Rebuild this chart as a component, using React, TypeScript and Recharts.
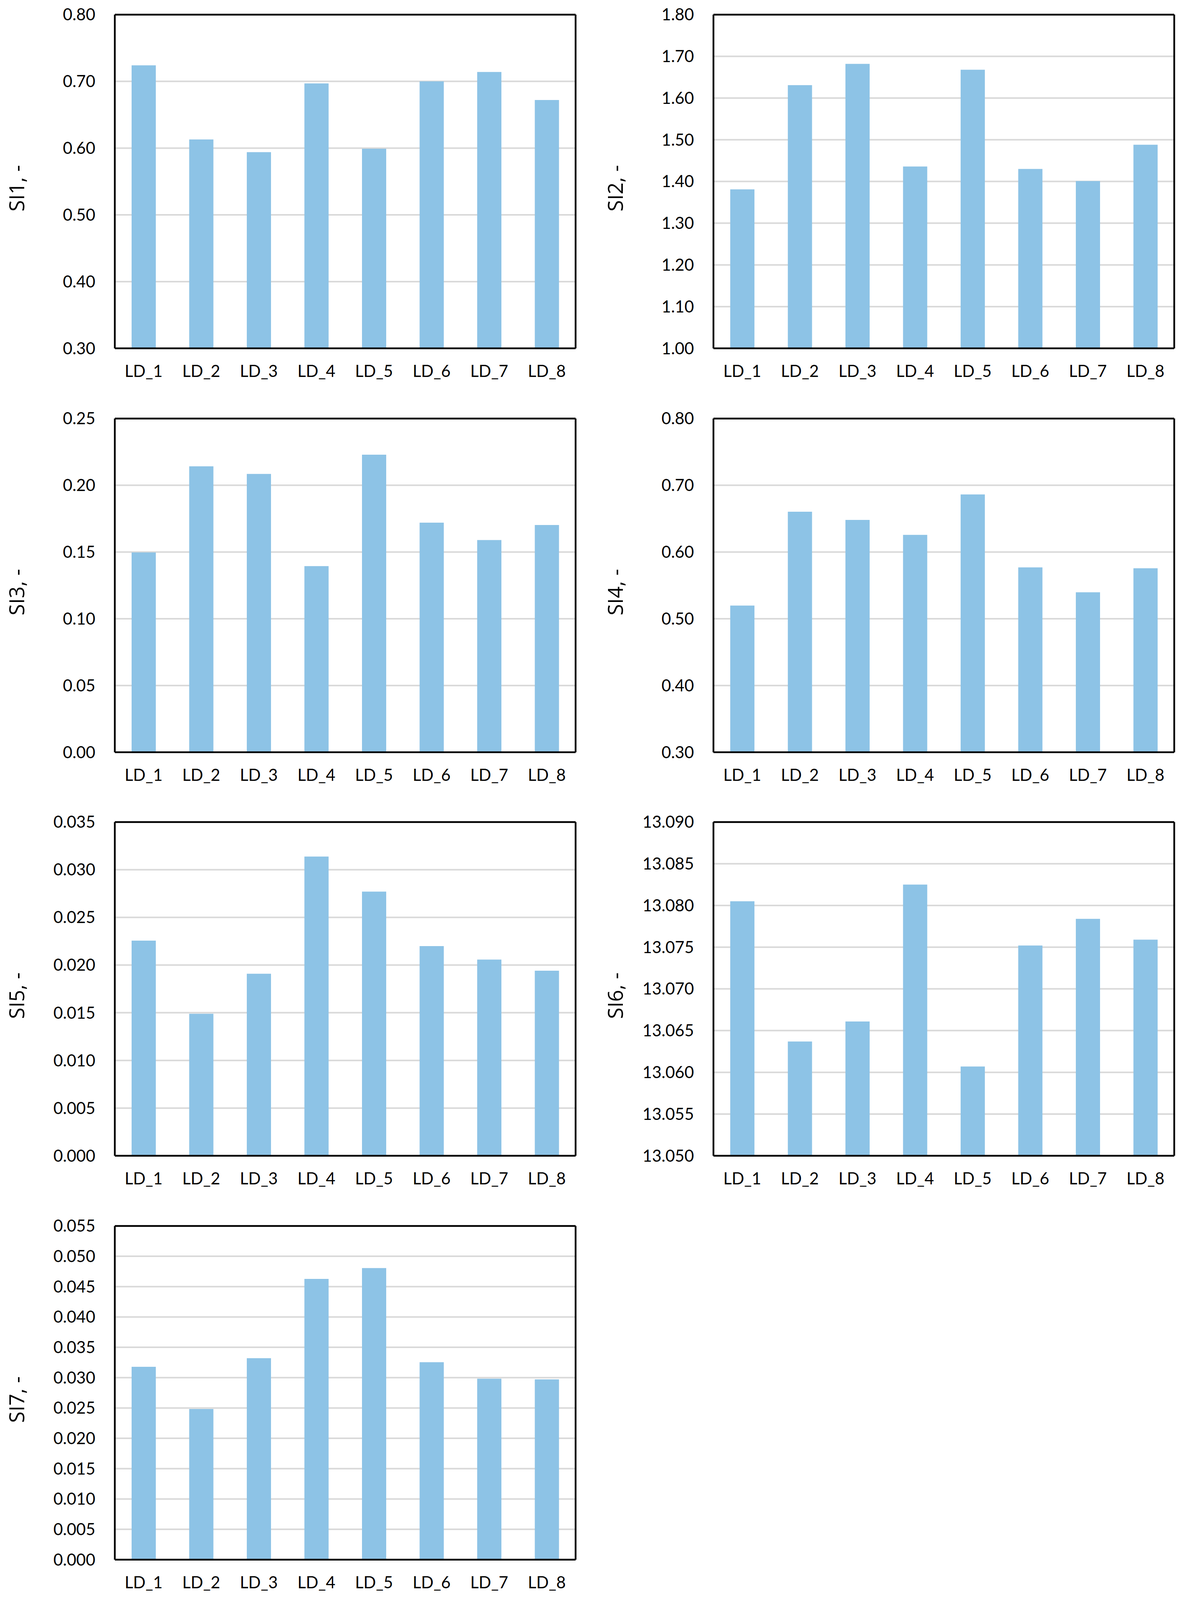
import React from 'react';
import { Bar, BarChart, CartesianGrid, Label, ReferenceLine, XAxis, YAxis } from 'recharts';

const categories = ['LD_1', 'LD_2', 'LD_3', 'LD_4', 'LD_5', 'LD_6', 'LD_7', 'LD_8'];

const si1 = [0.724, 0.613, 0.594, 0.697, 0.599, 0.7, 0.714, 0.672];
const si2 = [1.381, 1.631, 1.682, 1.436, 1.668, 1.43, 1.401, 1.488];
const si3 = [0.1497, 0.2142, 0.2085, 0.1394, 0.2229, 0.172, 0.159, 0.1702];
const si4 = [0.5198, 0.6604, 0.6481, 0.6257, 0.6862, 0.5769, 0.5396, 0.5757];
const si5 = [0.02256, 0.01489, 0.01909, 0.03138, 0.0277, 0.02199, 0.02058, 0.01941];
const si6 = [13.0805, 13.0637, 13.0661, 13.0825, 13.0607, 13.0752, 13.0784, 13.0759];
const si7 = [0.03178, 0.02484, 0.0332, 0.04627, 0.04805, 0.03255, 0.02983, 0.02971];

const si1Ticks = [0.3, 0.4, 0.5, 0.6, 0.7, 0.8];
const si2Ticks = [1.0, 1.1, 1.2, 1.3, 1.4, 1.5, 1.6, 1.7, 1.8];
const si3Ticks = [0, 0.05, 0.1, 0.15, 0.2, 0.25];
const si4Ticks = [0.3, 0.4, 0.5, 0.6, 0.7, 0.8];
const si5Ticks = [0, 0.005, 0.01, 0.015, 0.02, 0.025, 0.03, 0.035];
const si6Ticks = [13.05, 13.055, 13.06, 13.065, 13.07, 13.075, 13.08, 13.085, 13.09];
const si7Ticks = [0, 0.005, 0.01, 0.015, 0.02, 0.025, 0.03, 0.035, 0.04, 0.045, 0.05, 0.055];

const BAR_COLOR = '#8DC3E6';
const GRID_COLOR = '#D9D9D9';
const TICK_FONT = 'Lato, "Liberation Sans", sans-serif';
const TITLE_FONT = '"Open Sans", "Noto Sans", sans-serif';
const frameLine = { stroke: '#000', strokeWidth: 4.5 };

// the page is 4708px tall but the visible window may be shorter, squeeze rows to fit
const PAGE_H = 4708;
const sy =
  typeof window !== 'undefined' && window.innerHeight > 0
    ? Math.min(1, window.innerHeight / PAGE_H)
    : 1;
const fontScale = Math.sqrt(sy);

const TitleLabel = ({ viewBox, value }: any) => {
  const x = viewBox.x + 42;
  const y = viewBox.y + viewBox.height / 2 + 20 * sy;
  return (
    <text
      x={x}
      y={y}
      transform={`rotate(-90, ${x}, ${y})`}
      textAnchor="middle"
      dominantBaseline="central"
      fontFamily={TITLE_FONT}
      fontSize={57 * fontScale}
      fill="#000"
    >
      {value}
    </text>
  );
};

interface PanelProps {
  values: number[];
  ticks: number[];
  digits: number;
  title: string;
  left: number;
  row: number;
}

const Panel: React.FC<PanelProps> = ({ values, ticks, digits, title, left, row }) => {
  const data = categories.map((name, i) => ({ name, value: values[i] }));
  const tickStyle = { fill: '#000', fontSize: 45 * fontScale, fontFamily: TICK_FONT };
  const domain = [ticks[0], ticks[ticks.length - 1]];
  return (
    <div style={{ position: 'absolute', left, top: row * 1188 * sy }}>
      <BarChart
        width={1514}
        height={1160 * sy}
        data={data}
        margin={{ top: 43 * sy, right: 40, bottom: 0, left: 0 }}
      >
        <CartesianGrid vertical={false} stroke={GRID_COLOR} strokeWidth={4} />
        <XAxis
          dataKey="name"
          height={135 * sy}
          tickLine={false}
          tickSize={0}
          tickMargin={50 * sy}
          axisLine={frameLine}
          tick={tickStyle}
          interval={0}
        />
        <YAxis
          width={294}
          type="number"
          domain={domain}
          ticks={ticks}
          allowDataOverflow
          tickLine={false}
          tickSize={0}
          tickMargin={50}
          axisLine={frameLine}
          tick={tickStyle}
          tickFormatter={(v: number) => v.toFixed(digits)}
        >
          <Label value={title} content={<TitleLabel value={title} />} />
        </YAxis>
        <Bar dataKey="value" fill={BAR_COLOR} barSize={62} isAnimationActive={false} />
        <ReferenceLine y={domain[1]} ifOverflow="visible" {...frameLine} />
        <ReferenceLine
          x={categories[categories.length - 1]}
          position="end"
          ifOverflow="visible"
          {...frameLine}
        />
      </BarChart>
    </div>
  );
};

export default function App() {
  return (
    <div
      style={{
        position: 'relative',
        margin: -8,
        width: 3032,
        height: PAGE_H * sy,
        background: '#fff',
        overflow: 'hidden'
      }}
    >
      <Panel values={si1} ticks={si1Ticks} digits={2} title="SI1, -" left={0} row={0} />
      <Panel values={si2} ticks={si2Ticks} digits={2} title="SI2, -" left={1533} row={0} />
      <Panel values={si3} ticks={si3Ticks} digits={2} title="SI3, -" left={0} row={1} />
      <Panel values={si4} ticks={si4Ticks} digits={2} title="SI4, -" left={1533} row={1} />
      <Panel values={si5} ticks={si5Ticks} digits={3} title="SI5, -" left={0} row={2} />
      <Panel values={si6} ticks={si6Ticks} digits={3} title="SI6, -" left={1533} row={2} />
      <Panel values={si7} ticks={si7Ticks} digits={3} title="SI7, -" left={0} row={3} />
    </div>
  );
}
